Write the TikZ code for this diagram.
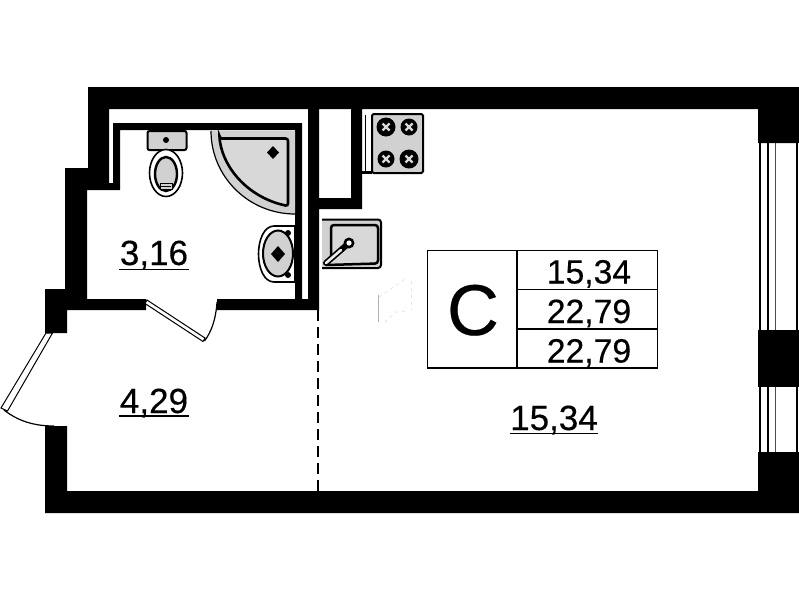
\documentclass[tikz,border=0pt]{standalone}
\usepackage{fontspec}
\setmainfont[FakeBold=0.3]{Liberation Sans}
\definecolor{fixt}{gray}{0.82}
\tikzset{
 wall/.style={fill=black,draw=none},
 leaf/.style={fill=white,draw=black,line width=1pt},
 swing/.style={draw=black,line width=1.2pt},
 fixture/.style={fill=fixt,draw=black,line width=2pt},
 hob/.style={fill=black,draw=none},
 grid/.style={draw=black,line width=1.8pt},
 lab/.style={inner sep=0,anchor=base,font=\fontsize{35}{40}\selectfont},
 cell/.style={inner sep=0,anchor=base,font=\fontsize{33.7}{38}\selectfont},
 gl/.style={draw=black,line width=1.5pt},
 glg/.style={draw=black!70,line width=1.3pt}
}
\begin{document}
\begin{tikzpicture}[x=1pt,y=-1pt]
\useasboundingbox (0,0) rectangle (799,600);
\fill[white] (0,0) rectangle (799,600);
% outer walls
\fill[wall] (88,87) -- (799,87) -- (799,143) -- (758,143) -- (758,109) -- (109,109) -- (109,183) -- (113,183) -- (113,123) -- (302,123) -- (302,299) -- (308,299) -- (308,109) -- (319,109) -- (319,198) -- (351,198) -- (351,109) -- (362,109) -- (362,209) -- (319,209) -- (319,310) -- (217,310) -- (217,299) -- (295,299) -- (295,130) -- (120,130) -- (120,190) -- (87,190) -- (87,299) -- (146,299) -- (146,310) -- (67,310) -- (67,333) -- (45,333) -- (45,289) -- (65,289) -- (65,168) -- (88,168) -- cycle;
\fill[wall] (45,426) -- (67,426) -- (67,491) -- (758,491) -- (758,452) -- (799,452) -- (799,513) -- (45,513) -- cycle;
\fill[wall] (758,330) rectangle (799,387);
% windows
\foreach \a/\b in {143/330,387/452}{
 \draw[gl] (759.8,\a) -- (759.8,\b);
 \draw[gl] (768,\a) -- (768,\b);
 \draw[glg] (775.5,\a) -- (775.5,\b);
 \draw[gl] (796.8,\a) -- (796.8,\b);
}
% doors
\draw[leaf] (147,300) -- (205,338) -- (203,341.5) -- (145,303.5) -- cycle;
\draw[swing] (204.5,341) .. controls (212,331) and (216,318) .. (217,302);
\draw[leaf] (46,333) -- (52.5,333) -- (7.5,411) -- (1,408) -- cycle;
\draw[swing] (4,410) .. controls (18,421) and (34,426) .. (54,426);
% opening between hall and room
\draw[black,line width=1.2pt,dash pattern=on 11pt off 6pt] (318,310) -- (318,491);
% toilet
\draw[fixture,rounded corners=2pt] (147.5,131) rectangle (186.5,150);
\fill (166,140) circle (3);
\draw[draw=black,fill=white,line width=1.6pt] (166,173) ellipse (16.5 and 23.5);
\draw[fixture,line width=2.4pt] (166,174) ellipse (11 and 17);
\draw[black,line width=1pt,fill=fixt] (160,183) rectangle (172,189);
\draw[black,line width=.8pt] (161,186) -- (171,186);
% shower
\fill[fixt] (211,131) -- (295,131) -- (295,214) .. controls (249,214) and (211,177) .. (211,131) -- cycle;
\draw[black,line width=1.2pt] (211,131) .. controls (211,177) and (249,214) .. (295,214);
\draw[black,line width=2.6pt,fill=fixt!85!white,rounded corners=2.5pt] (219.5,138.5) -- (288,138.5) -- (288,206) .. controls (250,198) and (224,170) .. (219.5,138.5) -- cycle;
\fill (273,146) -- (279,152.5) -- (273,159) -- (267,152.5) -- cycle;
% basin
\draw[fixture,fill=white,line width=1.6pt] (295,226) -- (274,226) .. controls (264,226) and (258.5,240) .. (258.5,254) .. controls (258.5,268) and (264,282) .. (274,282) -- (295,282) -- cycle;
\draw[fixture] (278,253.5) ellipse (15 and 23);
\fill (278,246) -- (285,254) -- (278,262) -- (271,254) -- cycle;
\fill (288,233) circle (3);
\fill (288,275) circle (3);
\fill[wall] (295,220) rectangle (302,290);
% stove
\draw[black,line width=1pt] (365,115) -- (365,171);
\draw[fixture,rounded corners=1.5pt] (372,114) rectangle (423,173);
\fill (362,171) rectangle (372,174);
\foreach \cx/\cy/\r in {386/127/9.5,409/127/8.5,386/159/8.5,409/159/9.5}{
 \fill[hob] (\cx,\cy) circle (\r);
 \draw[white!85!black,line width=2.2pt] (\cx-3.5,\cy-3.5) -- (\cx+3.5,\cy+3.5) (\cx-3.5,\cy+3.5) -- (\cx+3.5,\cy-3.5);
}
% sink
\fill[fixt] (322,220) rectangle (381,268);
\draw[black,line width=2pt,rounded corners=3pt] (322,219.5) -- (381,219.5) -- (381,268) -- (322,268);
\draw[black,line width=2.5pt,rounded corners=3pt,fill=fixt!85!white] (331,258) -- (331,225) -- (378,225) -- (378,263.5) -- (326,265);
\draw[black,line width=6pt,line cap=round] (326,263) -- (349,243);
\draw[white!92!black,line width=2.6pt,line cap=round] (326,263) -- (341,250);
\fill (349,243) circle (5.5);
\fill[white] (349,243) circle (2.6);
% faint mark
\draw[black!30,line width=.8pt] (378.5,295) -- (378.5,322);
\draw[black!10,line width=.8pt,dash pattern=on 3pt off 4pt] (379,297) -- (408,277);
\draw[black!10,line width=.8pt,dash pattern=on 3pt off 4pt] (411,281) -- (411,310);
\draw[black!10,line width=.8pt,dash pattern=on 3pt off 4pt] (385,322) -- (396,312) -- (406,311);
% table
\draw[grid] (427.5,250.5) rectangle (657.5,368);
\draw[grid] (517,250.5) -- (517,368);
\draw[grid] (517,289.5) -- (657.5,289.5);
\draw[grid] (517,329) -- (657.5,329);
\node[inner sep=0,anchor=base,font=\fontsize{72}{80}\selectfont] (kind) at (473,335) {C};
\node[cell] (c1) at (589,283.5) {15,34};
\node[cell] (c2) at (589,323) {22,79};
\node[cell] (c3) at (589,362.5) {22,79};
% room labels
\node[lab] (r1) at (154,265) {3,16};
\draw[black,line width=1.4pt] (119,269.5) -- (189,269.5);
\node[lab] (r2) at (154,413) {4,29};
\draw[black,line width=1.4pt] (119,416) -- (189,416);
\node[lab] (r3) at (554,430) {15,34};
\draw[black,line width=1.4pt] (510,433.5) -- (598,433.5);
\end{tikzpicture}
\end{document}
